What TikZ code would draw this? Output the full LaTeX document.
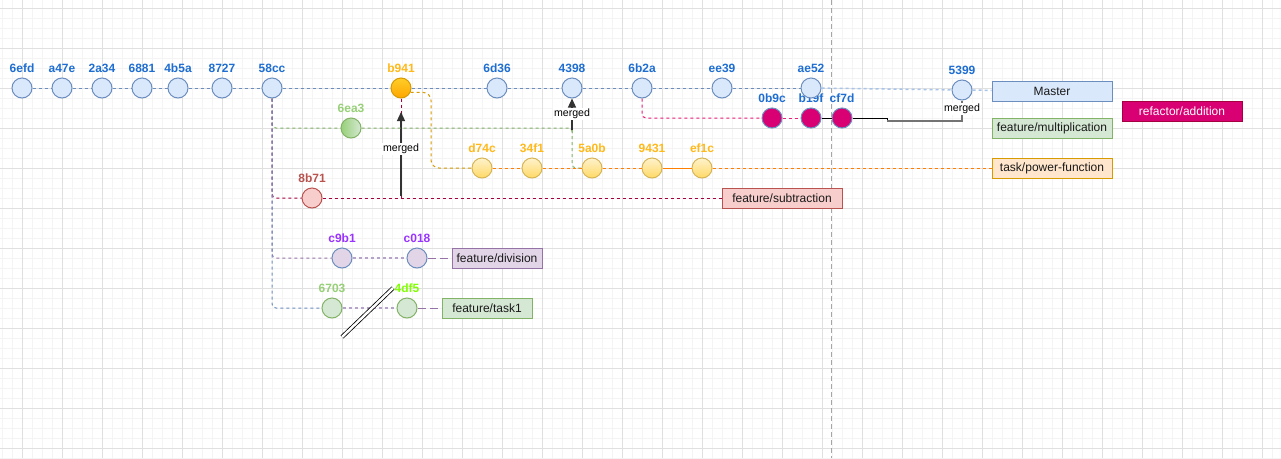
\documentclass[tikz,border=0pt]{standalone}
\usepackage{fontspec}
\setmainfont{Liberation Sans}
\usetikzlibrary{arrows.meta}
\definecolor{blueF}{HTML}{DAE8FC}
\definecolor{blueD}{HTML}{6C8EBF}
\definecolor{blueT}{HTML}{1E6ED2}
\definecolor{lightblueD}{HTML}{A9C4EB}
\definecolor{greenF}{HTML}{D5E8D4}
\definecolor{greenD}{HTML}{82B366}
\definecolor{greenM}{HTML}{97D077}
\definecolor{limeT}{HTML}{80FF00}
\definecolor{yellowF}{HTML}{FFF2CC}
\definecolor{yellowM}{HTML}{FFD966}
\definecolor{yellowD}{HTML}{D6B656}
\definecolor{yellowT}{HTML}{FFB91A}
\definecolor{goldTop}{HTML}{FFCD28}
\definecolor{goldBot}{HTML}{FFA500}
\definecolor{orangeD}{HTML}{D79B00}
\definecolor{orangeF}{HTML}{FFE6CC}
\definecolor{orangeL}{HTML}{FF8000}
\definecolor{redF}{HTML}{F8CECC}
\definecolor{redD}{HTML}{B85450}
\definecolor{crimson}{HTML}{A50040}
\definecolor{pinkF}{HTML}{D80073}
\definecolor{pinkD}{HTML}{A50040}
\definecolor{pinkE}{HTML}{E91E78}
\definecolor{purpleF}{HTML}{E1D5E7}
\definecolor{purpleD}{HTML}{9673A6}
\definecolor{purpleL}{HTML}{B5A3C9}
\definecolor{purpleT}{HTML}{9933FF}
\definecolor{gridmaj}{HTML}{E0E0E0}
\definecolor{gridmin}{HTML}{F4F4F4}
\begin{document}
\begin{tikzpicture}[x=1pt,y=-1pt,
    commit/.style={circle,draw=blueD,fill=blueF,line width=1pt,minimum size=20pt,inner sep=0pt},
    hash/.style={font=\fontsize{12}{13}\bfseries\selectfont,text=blueT,inner sep=1pt,label distance=3.5pt},
    branch/.style={draw,line width=1pt,minimum width=120pt,minimum height=20pt,inner sep=0pt,text=black!90,font=\fontsize{12}{14}\selectfont},
    edge/.style={line width=1pt,dash pattern=on 3pt off 3pt},
    mergearrow/.style={-{Triangle[length=9pt,width=8pt]},line width=1.2pt,black!80},
    mlabel/.style={fill=white,inner sep=1pt,font=\fontsize{10.6}{12}\selectfont}]
  \useasboundingbox (0,0) rectangle (1281,458);
  \fill[white] (0,0) rectangle (1281,458);
  \foreach \x in {2,12,...,1282}
    \draw[gridmin,line width=1pt] (\x,0) -- (\x,458);
  \foreach \y in {8,18,...,458}
    \draw[gridmin,line width=1pt] (0,\y) -- (1281,\y);
  \foreach \x in {22,62,...,1262}
    \draw[gridmaj,line width=1pt] (\x,0) -- (\x,458);
  \foreach \y in {8,48,...,448}
    \draw[gridmaj,line width=1pt] (0,\y) -- (1281,\y);
  \draw[black!35,line width=1pt,dash pattern=on 5pt off 3pt] (831,0) -- (831,458);

  \foreach \h/\x in {6efd/22,a47e/62,2a34/102,6881/142,4b5a/178,8727/222,58cc/272,6d36/497,4398/572,6b2a/642,ee39/722}
    \node[commit,label={[hash]above:\h}] (c\h) at (\x,88) {};
  \node[commit,draw=orangeD,top color=goldTop,bottom color=goldBot,label={[hash,text=yellowT]above:b941}] (cb941) at (401,88) {};
  \node[commit,draw=greenD,left color=greenM,right color=greenF,label={[hash,text=greenM]above:6ea3}] (c6ea3) at (351,128) {};
  \foreach \h/\x in {d74c/482,34f1/532,5a0b/592,9431/652,ef1c/702}
    \node[commit,draw=yellowD,top color=yellowF,bottom color=yellowM,label={[hash,text=yellowT]above:\h}] (c\h) at (\x,168) {};
  \node[commit,draw=redD,fill=redF,label={[hash,text=redD]above:8b71}] (c8b71) at (312,198) {};
  \foreach \h/\x in {0b9c/772,b19f/811,cf7d/842}
    \node[commit,fill=pinkF,label={[hash]above:\h}] (c\h) at (\x,118) {};
  \node[commit,label={[hash]above:ae52}] (cae52) at (811,88) {};
  \node[commit,label={[hash]above:5399}] (c5399) at (962,90) {};
  \node[commit,fill=purpleF,label={[hash,text=purpleT]above:c9b1}] (cc9b1) at (342,258) {};
  \node[commit,fill=purpleF,label={[hash,text=purpleT]above:c018}] (cc018) at (417,258) {};
  \node[commit,draw=greenD,fill=greenF,label={[hash,text=greenM]above:6703}] (c6703) at (332,308) {};
  \node[commit,draw=greenD,fill=greenF,label={[hash,text=limeT]above:4df5}] (c4df5) at (407,308) {};

  \node[branch,draw=blueD,fill=blueF] (master) at (1052,91) {Master};
  \node[branch,draw=greenD,fill=greenF] (multiplication) at (1052,128) {feature/multiplication};
  \node[branch,draw=orangeD,fill=orangeF] (power) at (1052,168) {task/power-function};
  \node[branch,draw=pinkD,fill=pinkF,text=white] (addition) at (1182,111) {refactor/addition};
  \node[branch,draw=redD,fill=redF] (subtraction) at (782,198) {feature/subtraction};
  \node[branch,draw=purpleD,fill=purpleF,minimum width=90pt] (division) at (497,258) {feature/division};
  \node[branch,draw=greenD,fill=greenF,minimum width=90pt] (task1) at (487,308) {feature/task1};

  \foreach \a/\b in {6efd/a47e,a47e/2a34,2a34/6881,6881/4b5a,4b5a/8727,8727/58cc,58cc/b941,b941/6d36,6d36/4398,4398/6b2a,6b2a/ee39,ee39/ae52}
    \draw[edge,blueD] (c\a) -- (c\b);
  \draw[edge,lightblueD,line width=1.5pt] (cae52) -- (c5399);
  \draw[edge,lightblueD,line width=1.5pt] (c5399) -- (master);

  \foreach \t/\c in {6ea3/greenD,8b71/crimson,c9b1/purpleD,6703/blueD}
    \draw[edge,\c,rounded corners=4pt] (c58cc) |- (c\t);

  \coordinate (m1) at (401,196);
  \coordinate (m1top) at (401,112);
  \draw[edge,crimson] (cb941) -- (cb941 |- c8b71);
  \draw[edge,crimson] (c8b71) -- (subtraction);
  \draw[mergearrow] (m1) -- node[mlabel,pos=0.56,text=black]{merged} (m1top);

  \coordinate (m2) at (572,130);
  \draw[edge,greenD,rounded corners=3pt] (c6ea3) -| (m2);
  \draw[edge,greenD,rounded corners=4pt] (m2) |- (c5a0b);
  \draw[mergearrow] (m2) -- node[mlabel,text=black]{merged} (c4398);

  \draw[edge,orangeD,rounded corners=8pt] (cb941.-25) -| (431,168) -- (cd74c);
  \foreach \a/\b in {d74c/34f1,34f1/5a0b,5a0b/9431}
    \draw[edge,orangeL] (c\a) -- (c\b);
  \draw[orangeL,line width=1pt] (c9431) -- (cef1c);
  \draw[edge,orangeL] (cef1c) -- (power);

  \draw[edge,pinkE,rounded corners=4pt] (c6b2a) |- (c0b9c);
  \draw[edge,pinkE] (c0b9c) -- (cb19f);
  \draw[black,line width=1pt] (cb19f) -- (ccf7d);
  \draw[black,line width=1pt] (ccf7d) -- ++(45,0) coordinate (m3) -- ++(0,3);
  \draw[black!55,line width=2pt] (m3) ++(0,3) -| (c5399);
  \node[mlabel] (m3label) at (962,109) {merged};

  \draw[edge,purpleL,line width=1.5pt] (cc9b1) -- (cc018);
  \draw[purpleD,line width=1pt,dash pattern=on 8pt off 4pt] (cc018) -- (division);
  \draw[edge,purpleL,line width=1.5pt] (c6703) -- (c4df5);
  \draw[purpleD,line width=1pt,dash pattern=on 8pt off 4pt] (c4df5) -- (task1);

  \draw[double=white,double distance=2.5pt,line width=0.8pt] (342,337) -- (393,288);
\end{tikzpicture}
\end{document}
